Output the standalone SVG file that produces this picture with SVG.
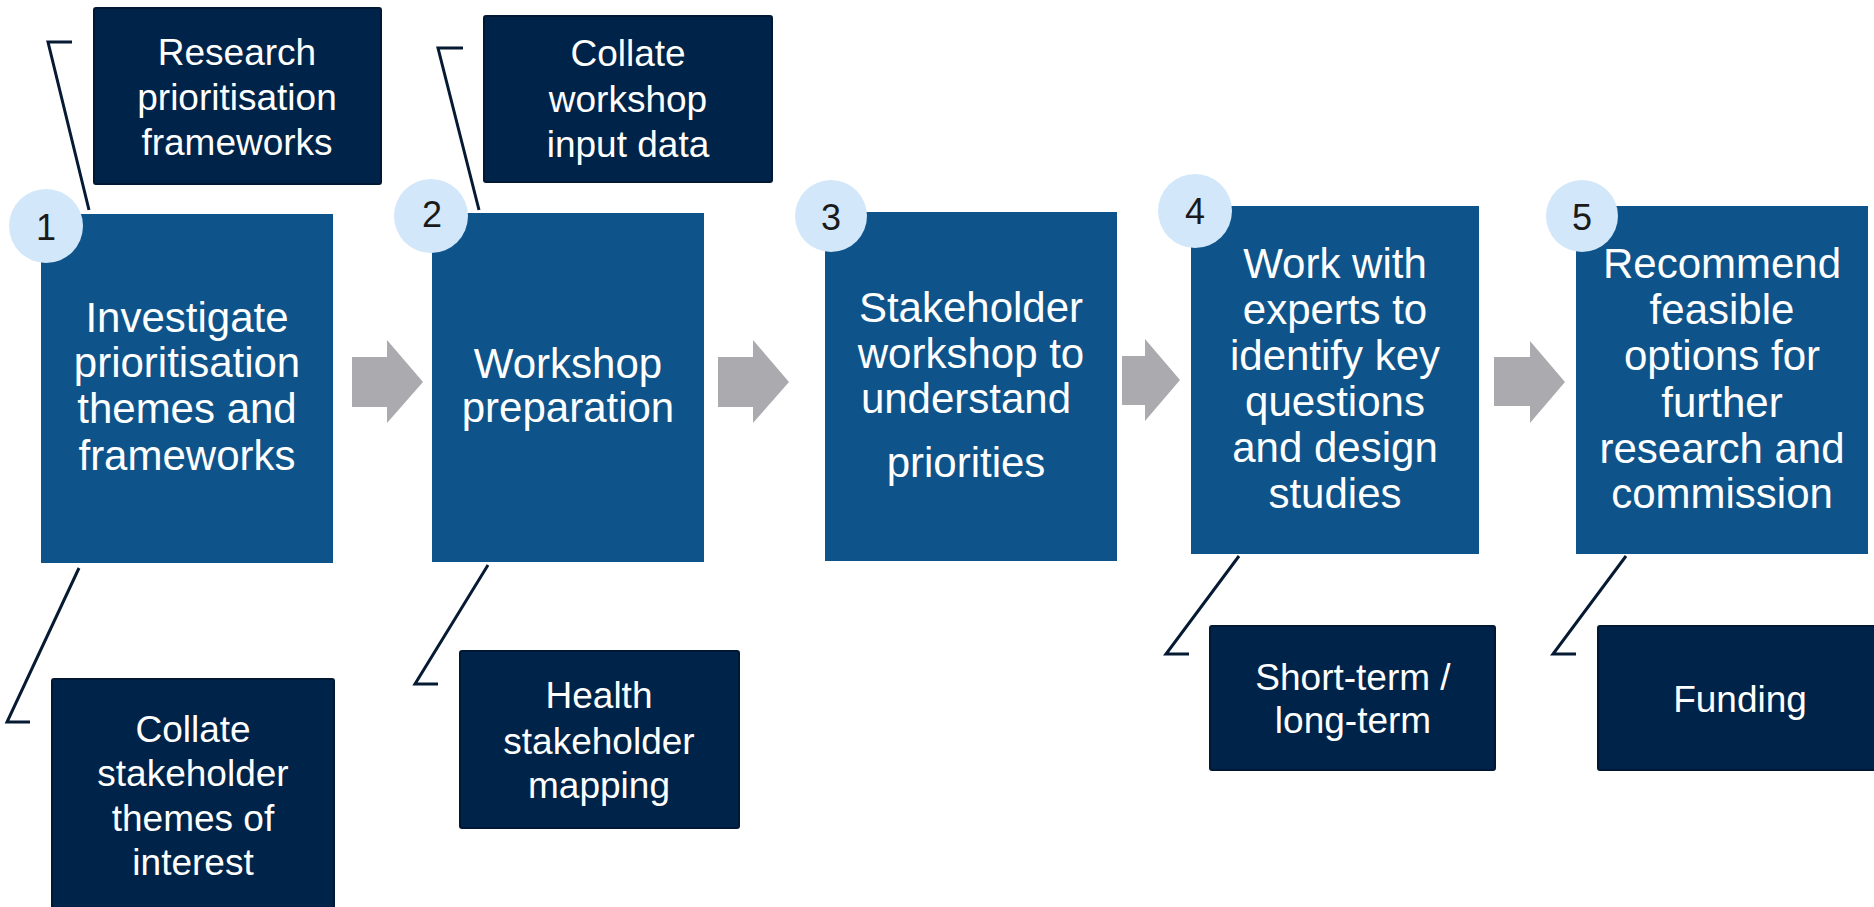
<svg xmlns="http://www.w3.org/2000/svg" width="1874" height="907" viewBox="0 0 1874 907">
<style>
.step{fill:#0E548B}
.sub{fill:#002449;stroke:#001833;stroke-width:2}
.num{fill:#D3E7FB}
.arrow{fill:#ABABAF}
.call{fill:none;stroke:#071a33;stroke-width:3}
.t{font-family:"Liberation Sans",Arial,sans-serif;fill:#ffffff;text-anchor:middle}
.big{font-size:42px}
.sm{font-size:37px}
.n{font-family:"Liberation Sans",Arial,sans-serif;font-size:36px;fill:#1a1a1a;text-anchor:middle}
</style>
<rect width="1874" height="907" fill="#ffffff"/>
<g id="connectors">
<polygon class="arrow" points="352,357 387,357 387,340 423,382 387,423 387,407 352,407"/>
<polygon class="arrow" points="718,357 753,357 753,340 789,382 753,423 753,407 718,407"/>
<polygon class="arrow" points="1122,356 1145,356 1145,339 1180,380 1145,421 1145,405 1122,405"/>
<polygon class="arrow" points="1494,357 1530,357 1530,341 1565,382 1530,423 1530,406 1494,406"/>
<polyline class="call" points="72,42 48,42 89,210"/>
<polyline class="call" points="463,48 438,48 479,210"/>
<polyline class="call" points="79,568 7,722 30,722"/>
<polyline class="call" points="488,565 415,684 438,684"/>
<polyline class="call" points="1239,556 1166,654 1189,654"/>
<polyline class="call" points="1626,556 1553,654 1576,654"/>
</g>
<g id="sub1a">
<rect class="sub" x="94" y="8" width="287" height="176" rx="2"/>
<text class="t sm" x="237" y="65">Research</text>
<text class="t sm" x="237" y="110">prioritisation</text>
<text class="t sm" x="237" y="155">frameworks</text>
</g>
<g id="sub2a">
<rect class="sub" x="484" y="16" width="288" height="166" rx="2"/>
<text class="t sm" x="628" y="66">Collate</text>
<text class="t sm" x="628" y="112">workshop</text>
<text class="t sm" x="628" y="157">input data</text>
</g>
<g id="sub1b">
<rect class="sub" x="52" y="679" width="282" height="240" rx="2"/>
<text class="t sm" x="193" y="742">Collate</text>
<text class="t sm" x="193" y="786">stakeholder</text>
<text class="t sm" x="193" y="831">themes of</text>
<text class="t sm" x="193" y="875">interest</text>
</g>
<g id="sub2b">
<rect class="sub" x="460" y="651" width="279" height="177" rx="2"/>
<text class="t sm" x="599" y="708">Health</text>
<text class="t sm" x="599" y="754">stakeholder</text>
<text class="t sm" x="599" y="798">mapping</text>
</g>
<g id="sub4">
<rect class="sub" x="1210" y="626" width="285" height="144" rx="2"/>
<text class="t sm" x="1353" y="690">Short-term /</text>
<text class="t sm" x="1353" y="733">long-term</text>
</g>
<g id="sub5">
<rect class="sub" x="1598" y="626" width="290" height="144" rx="2"/>
<text class="t sm" x="1740" y="712">Funding</text>
</g>
<g id="step1">
<rect class="step" x="41" y="214" width="292" height="349"/>
<text class="t big" x="187" y="332">Investigate</text>
<text class="t big" x="187" y="377">prioritisation</text>
<text class="t big" x="187" y="423">themes and</text>
<text class="t big" x="187" y="470">frameworks</text>
<circle class="num" cx="46" cy="226" r="37"/>
<text class="n" x="46" y="240">1</text>
</g>
<g id="step2">
<rect class="step" x="432" y="213" width="272" height="349"/>
<text class="t big" x="568" y="378">Workshop</text>
<text class="t big" x="568" y="422">preparation</text>
<circle class="num" cx="431" cy="216" r="37"/>
<text class="n" x="432" y="227">2</text>
</g>
<g id="step3">
<rect class="step" x="825" y="212" width="292" height="349"/>
<text class="t big" x="971" y="322">Stakeholder</text>
<text class="t big" x="971" y="368">workshop to</text>
<text class="t big" x="966" y="413">understand</text>
<text class="t big" x="966" y="477">priorities</text>
<circle class="num" cx="831" cy="216" r="36"/>
<text class="n" x="831" y="230">3</text>
</g>
<g id="step4">
<rect class="step" x="1191" y="206" width="288" height="348"/>
<text class="t big" x="1335" y="278">Work with</text>
<text class="t big" x="1335" y="324">experts to</text>
<text class="t big" x="1335" y="370">identify key</text>
<text class="t big" x="1335" y="416">questions</text>
<text class="t big" x="1335" y="462">and design</text>
<text class="t big" x="1335" y="508">studies</text>
<circle class="num" cx="1195" cy="211" r="37"/>
<text class="n" x="1195" y="224">4</text>
</g>
<g id="step5">
<rect class="step" x="1576" y="206" width="292" height="348"/>
<text class="t big" x="1722" y="278">Recommend</text>
<text class="t big" x="1722" y="324">feasible</text>
<text class="t big" x="1722" y="370">options for</text>
<text class="t big" x="1722" y="417">further</text>
<text class="t big" x="1722" y="463">research and</text>
<text class="t big" x="1722" y="508">commission</text>
<circle class="num" cx="1582" cy="216" r="36"/>
<text class="n" x="1582" y="230">5</text>
</g>
</svg>
